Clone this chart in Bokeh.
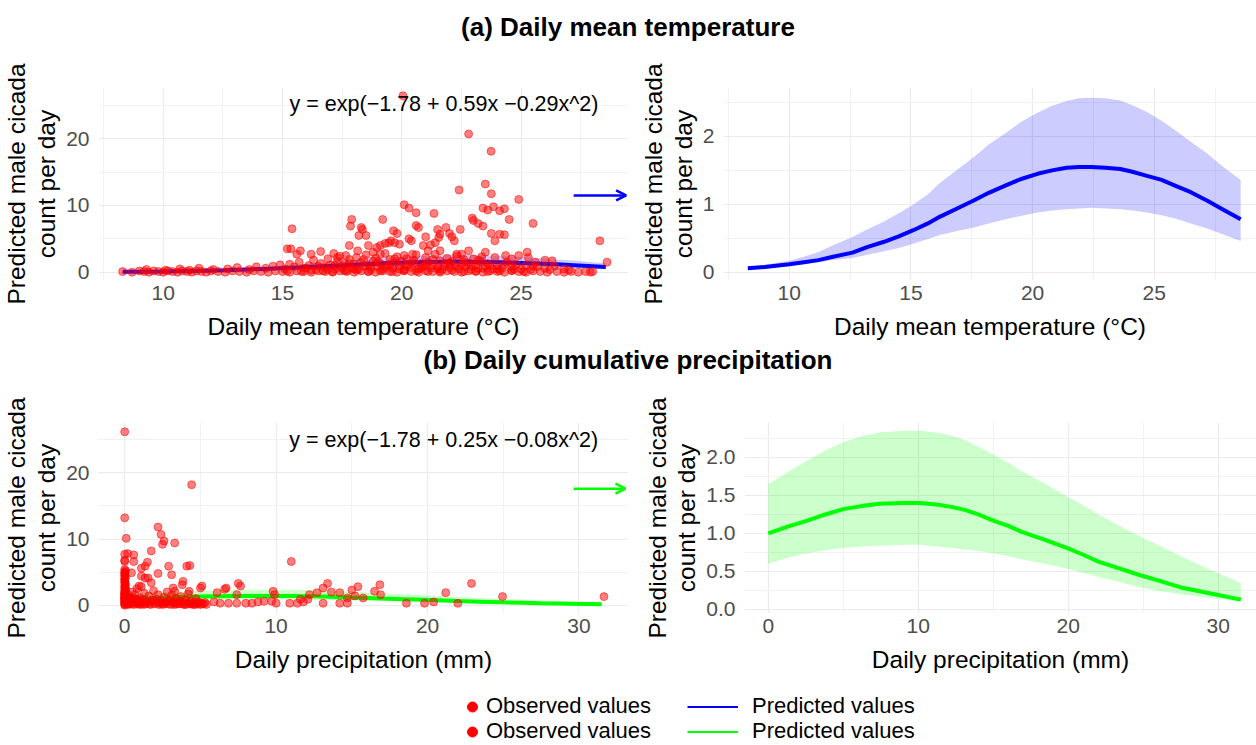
from bokeh.plotting import figure
from bokeh.models import FixedTicker, Label, Arrow, OpenHead, Legend, LegendItem, Div, PrintfTickFormatter
from bokeh.layouts import column, row
from bokeh.embed import file_html
from bokeh.resources import INLINE

FONT = "Liberation Sans"

# ---------------- data ----------------
# predicted curve: temperature
temp_x = [8.3, 9.0, 10.0, 10.6, 11.2, 11.8, 12.6, 13.2, 13.9, 14.5, 15.1, 15.7, 16.2, 16.9, 17.6, 18.2,
          18.9, 19.5, 20.2, 20.8, 21.4, 21.9, 22.4, 23.0, 23.6, 24.1, 24.7, 25.3, 25.9, 26.5, 27.2, 27.8, 28.55]
temp_fit = [0.06, 0.08, 0.12, 0.15, 0.18, 0.23, 0.29, 0.37, 0.45, 0.53, 0.62, 0.72, 0.82, 0.94, 1.06, 1.17,
            1.28, 1.37, 1.45, 1.50, 1.54, 1.55, 1.55, 1.54, 1.52, 1.48, 1.42, 1.36, 1.27, 1.18, 1.05, 0.93, 0.78]
temp_upper = [0.08, 0.11, 0.17, 0.23, 0.30, 0.40, 0.52, 0.63, 0.75, 0.87, 1.00, 1.15, 1.32, 1.51, 1.70, 1.88,
              2.05, 2.21, 2.35, 2.45, 2.52, 2.56, 2.57, 2.56, 2.53, 2.46, 2.36, 2.23, 2.08, 1.92, 1.74, 1.56, 1.36]
temp_lower = [0.04, 0.06, 0.09, 0.12, 0.15, 0.18, 0.21, 0.26, 0.31, 0.36, 0.42, 0.49, 0.55, 0.61, 0.66, 0.72,
              0.78, 0.83, 0.88, 0.91, 0.93, 0.94, 0.95, 0.94, 0.93, 0.91, 0.88, 0.84, 0.79, 0.72, 0.64, 0.56, 0.46]

# predicted curve: precipitation
prec_x = [0.0, 1.3, 2.6, 3.8, 5.0, 6.2, 7.4, 9.0, 10.1, 11.2, 12.2, 13.1, 14.0, 15.0, 16.0, 16.9, 18.4,
          19.9, 21.0, 22.0, 23.4, 24.8, 26.2, 27.5, 29.5, 31.5]
prec_fit = [1.00, 1.09, 1.17, 1.25, 1.32, 1.36, 1.39, 1.40, 1.40, 1.38, 1.35, 1.31, 1.25, 1.17, 1.10, 1.02, 0.92,
            0.81, 0.72, 0.63, 0.54, 0.45, 0.37, 0.29, 0.21, 0.13]
prec_upper = [1.65, 1.81, 1.96, 2.09, 2.20, 2.28, 2.33, 2.35, 2.35, 2.33, 2.29, 2.23, 2.14, 2.04, 1.93, 1.82, 1.66,
              1.49, 1.37, 1.25, 1.10, 0.96, 0.83, 0.70, 0.52, 0.35]
prec_lower = [0.60, 0.68, 0.74, 0.78, 0.81, 0.83, 0.84, 0.85, 0.85, 0.83, 0.81, 0.79, 0.77, 0.74, 0.70, 0.66, 0.60,
              0.54, 0.48, 0.43, 0.36, 0.29, 0.24, 0.20, 0.15, 0.10]

# observed values: (daily mean temperature, count)
obs_temp_pairs = [
    (20.05, 26.4), (22.8, 20.7), (23.74, 18.1), (23.5, 13.2), (22.4, 12.3), (23.75, 11.75),
    (24.9, 10.9), (20.1, 10.1), (20.3, 9.6), (23.4, 9.6), (23.6, 9.3), (23.84, 9.8),
    (24.1, 9.2), (24.3, 9.5), (20.6, 8.9), (21.35, 8.8), (19.2, 7.9), (17.9, 7.9),
    (17.85, 6.9), (18.3, 6.7), (18.35, 6.4), (22.95, 8.1), (23.0, 7.75), (23.2, 7.3),
    (23.4, 6.9), (24.5, 7.9), (20.6, 7.0), (20.7, 6.7), (15.4, 6.5), (25.5, 7.3),
    (19.65, 6.2), (19.8, 5.8), (21.0, 5.3), (21.5, 6.4), (21.6, 5.7), (21.85, 6.7),
    (22.45, 6.4), (23.75, 5.8), (24.1, 5.7), (24.3, 5.6), (23.9, 4.7), (22.0, 5.8),
    (22.1, 5.3), (22.2, 4.7), (20.3, 5.0), (20.4, 4.7), (20.9, 4.0), (21.2, 4.1),
    (21.4, 4.4), (21.55, 5.2), (18.2, 5.5), (18.5, 5.5), (18.6, 4.0), (18.95, 3.7),
    (19.1, 4.0), (19.3, 4.3), (19.45, 4.4), (19.55, 4.7), (19.7, 4.4), (19.9, 4.2),
    (17.8, 4.0), (15.2, 3.5), (15.35, 3.5), (15.6, 2.7), (15.75, 3.2), (16.2, 2.7),
    (16.6, 3.1), (17.15, 2.8), (24.9, 2.5), (25.3, 2.2), (25.25, 3.0), (28.3, 4.7),
    (28.6, 1.5), (26.3, 1.7), (26.0, 1.8), (25.6, 1.5), (24.6, 2.0), (24.35, 2.5),
    (23.5, 3.0), (23.35, 2.3), (22.8, 3.2), (22.5, 2.7), (22.3, 2.7), (21.6, 3.2),
    (21.1, 3.2), (20.45, 2.7), (20.1, 2.5), (19.1, 2.7), (18.8, 3.0), (18.15, 3.2),
    (17.65, 2.5), (17.3, 2.2),
    (8.3, 0.1), (8.7, 0.0), (9.0, 0.2), (9.2, 0.1), (9.4, 0.0), (9.6, 0.2), (9.8, 0.1),
    (10.0, 0.0), (10.2, 0.2), (10.4, 0.1), (10.6, 0.0), (10.8, 0.2), (11.0, 0.1),
    (11.2, 0.0), (11.4, 0.2), (11.6, 0.1), (11.8, 0.0), (12.0, 0.2), (12.3, 0.1),
    (12.6, 0.0), (12.9, 0.2), (13.2, 0.1), (13.5, 0.0), (13.8, 0.2), (14.1, 0.1),
    (14.4, 0.0), (14.7, 0.2), (15.0, 0.1), (15.3, 0.0), (15.6, 0.2), (15.9, 0.1),
    (16.2, 0.0), (16.5, 0.2), (16.8, 0.1), (17.1, 0.0), (17.4, 0.2), (17.7, 0.1),
    (18.0, 0.0), (18.3, 0.2), (18.6, 0.1), (18.9, 0.0), (19.2, 0.2), (19.5, 0.1),
    (19.8, 0.0), (20.1, 0.2), (20.4, 0.1), (20.7, 0.0), (21.0, 0.2), (21.3, 0.1),
    (21.6, 0.0), (21.9, 0.2), (22.2, 0.1), (22.5, 0.0), (22.8, 0.2), (23.1, 0.1),
    (23.4, 0.0), (23.7, 0.2), (24.0, 0.1), (24.3, 0.0), (24.6, 0.2), (24.9, 0.1),
    (25.2, 0.0), (25.5, 0.2), (25.8, 0.1), (26.1, 0.0), (26.5, 0.1), (26.8, 0.0),
    (27.1, 0.1), (27.4, 0.0), (27.7, 0.1), (27.9, 0.0),
    (9.3, 0.4), (10.1, 0.3), (10.7, 0.5), (11.1, 0.3), (11.5, 0.6), (12.1, 0.4),
    (12.7, 0.5), (13.1, 0.7), (13.6, 0.4), (13.9, 0.8), (14.3, 0.6), (14.6, 0.9), (14.9, 1.1),
    (15.1, 0.5), (15.3, 1.2), (15.5, 0.8), (15.7, 1.5), (15.9, 0.6), (16.1, 1.0), (16.3, 1.8),
    (16.4, 0.4), (16.6, 1.3), (16.8, 0.7), (16.9, 2.0), (17.0, 1.1), (17.2, 0.5), (17.3, 1.6),
    (17.4, 2.4), (17.5, 0.9), (17.6, 1.3), (17.7, 0.3), (17.8, 1.9), (17.9, 0.7), (18.0, 1.2),
    (18.1, 2.2), (18.2, 0.5), (18.3, 1.5), (18.4, 0.9), (18.5, 2.6), (18.6, 1.1), (18.7, 0.4),
    (18.8, 1.7), (18.9, 2.1), (19.0, 0.8), (19.1, 1.3), (19.2, 0.5), (19.3, 2.8), (19.4, 1.0),
    (19.5, 1.9), (19.6, 0.6), (19.7, 1.4), (19.8, 2.3), (19.9, 0.9), (20.0, 1.6), (20.1, 0.4),
    (20.2, 2.0), (20.3, 1.2), (20.4, 0.7), (20.5, 1.8), (20.6, 2.6), (20.7, 0.5), (20.8, 1.3),
    (20.9, 0.9), (21.0, 2.2), (21.1, 1.5), (21.2, 0.6), (21.3, 1.1), (21.4, 2.7), (21.5, 0.8),
    (21.6, 1.7), (21.7, 0.4), (21.8, 1.3), (21.9, 2.1), (22.0, 0.7), (22.1, 1.6), (22.2, 1.0),
    (22.3, 2.4), (22.4, 0.5), (22.5, 1.2), (22.6, 1.9), (22.7, 0.8), (22.8, 1.4), (22.9, 0.4),
    (23.0, 2.0), (23.1, 1.1), (23.2, 0.6), (23.3, 1.7), (23.5, 0.9), (23.6, 1.3), (23.8, 0.5),
    (23.9, 2.2), (24.0, 1.0), (24.2, 0.6), (24.4, 1.5), (24.6, 0.8), (24.8, 1.2), (25.0, 0.5),
    (25.2, 1.0), (25.4, 0.4), (25.7, 0.8), (26.0, 0.6), (26.4, 0.9), (26.8, 0.5),
    (15.2, 0.2), (15.8, 0.1), (16.2, 0.3), (16.7, 0.2), (17.1, 0.1), (17.6, 0.2), (18.1, 0.3),
    (18.6, 0.1), (19.1, 0.2), (19.6, 0.1), (20.1, 0.3), (20.6, 0.2), (21.1, 0.1), (21.6, 0.2),
    (22.1, 0.3), (22.6, 0.1), (23.1, 0.2), (23.6, 0.1), (24.1, 0.2), (24.6, 0.3), (25.1, 0.1),
    (16.0, 0.6), (16.5, 0.9), (16.9, 0.4), (17.2, 1.0), (17.5, 0.6), (17.8, 1.3), (18.0, 0.5),
    (18.4, 1.9), (18.7, 0.8), (19.0, 1.6), (19.3, 0.7), (19.5, 1.2), (19.7, 2.0), (19.9, 0.5),
    (20.2, 1.0), (20.5, 1.4), (20.8, 0.6), (21.0, 1.0), (21.3, 1.9), (21.5, 0.5), (21.8, 0.9),
    (22.0, 1.4), (22.3, 0.8), (22.6, 1.5), (22.9, 1.0), (23.2, 1.8), (23.4, 0.6), (23.7, 1.0),
    (24.0, 0.5), (24.3, 1.2), (24.7, 0.5), (25.5, 0.9), (26.2, 0.4), (27.0, 0.3), (28.0, 0.1),
]

# observed values: (daily precipitation, count)
obs_prec_pairs = [
    (0.0, 26.2), (4.42, 18.2), (0.0, 13.2), (0.1, 10.1), (2.2, 11.8), (2.4, 10.7), (2.6, 9.7),
    (2.5, 9.2), (3.3, 9.4), (11.0, 6.6), (0.2, 7.8), (0.0, 7.7), (0.6, 7.6), (0.6, 6.6),
    (1.75, 8.2), (1.5, 6.5), (1.35, 5.9), (1.1, 5.6), (2.9, 5.9), (4.1, 5.9), (4.3, 6.0),
    (2.2, 4.8), (3.1, 4.6), (0.0, 5.4), (0.0, 4.9), (0.0, 4.4), (0.0, 3.9), (0.0, 3.4),
    (0.05, 2.9), (0.05, 2.4), (0.0, 1.9), (0.0, 1.1), (0.45, 4.9), (1.1, 4.4), (1.55, 4.1),
    (1.75, 3.4), (1.35, 4.1), (0.95, 2.9), (3.85, 3.6), (3.8, 3.1), (5.1, 2.9), (5.0, 2.6),
    (3.2, 2.6), (3.3, 2.1), (4.25, 2.1), (6.1, 1.9), (6.7, 2.6), (6.6, 2.4), (7.5, 3.3),
    (7.65, 2.9), (7.4, 1.6), (9.8, 2.1), (9.9, 1.6), (11.6, 0.9), (12.2, 1.6), (12.7, 1.9),
    (13.1, 2.6), (13.4, 3.3), (13.65, 2.0), (14.2, 1.9), (14.7, 1.1), (15.0, 2.3), (15.4, 2.8),
    (15.2, 1.4), (15.75, 1.1), (16.5, 2.1), (16.85, 3.1), (16.9, 1.6), (21.2, 1.9), (22.9, 3.3),
    (24.95, 1.3), (31.65, 1.3), (18.6, 0.3), (19.8, 0.3), (20.4, 0.5), (22.0, 0.3), (14.2, 0.3),
    (14.7, 0.3), (13.1, 0.3), (12.1, 0.9), (11.8, 0.5), (11.4, 0.3), (10.9, 0.3), (10.0, 0.3),
    (9.7, 0.6), (9.2, 0.6), (8.8, 0.5), (8.4, 0.3), (8.0, 0.3), (7.4, 0.3), (6.85, 0.3),
    (6.3, 0.3), (5.9, 0.5),
    (0.0, 0.0), (0.0, 0.3), (0.0, 0.6), (0.0, 0.9), (0.0, 1.2), (0.0, 1.5), (0.0, 1.8),
    (0.0, 2.1), (0.0, 2.4), (0.0, 2.7), (0.0, 3.0), (0.05, 3.3), (0.0, 3.6), (0.0, 4.0),
    (0.05, 4.2), (0.0, 4.6), (0.0, 5.0), (0.05, 5.2), (0.0, 6.6), (0.0, 6.8), (0.1, 0.2),
    (0.1, 0.8), (0.1, 1.4), (0.2, 0.5), (0.2, 1.0), (0.2, 1.6), (0.3, 0.3), (0.3, 0.9),
    (0.4, 0.2), (0.4, 1.2), (0.5, 0.6), (0.5, 2.0), (0.6, 0.1), (0.7, 0.4), (0.7, 1.6),
    (0.8, 0.2), (0.8, 2.5), (0.9, 0.7), (1.0, 0.1), (1.0, 1.1), (1.1, 2.8), (1.2, 0.3),
    (1.2, 0.9), (1.3, 1.8), (1.4, 0.2), (1.5, 0.6), (1.6, 1.4), (1.7, 0.1), (1.8, 0.5),
    (1.9, 2.2), (2.0, 0.2), (2.1, 0.9), (2.2, 1.6), (2.3, 0.3), (2.4, 0.7), (2.5, 0.1),
    (2.6, 1.2), (2.7, 0.4), (2.8, 2.0), (2.9, 0.2), (3.0, 0.8), (3.1, 1.5), (3.2, 0.3),
    (3.3, 0.1), (3.4, 1.0), (3.5, 0.4), (3.6, 0.2), (3.7, 1.3), (3.8, 0.5), (3.9, 0.1),
    (4.0, 0.8), (4.1, 0.3), (4.2, 1.7), (4.3, 0.2), (4.4, 0.6), (4.5, 0.1), (4.6, 0.4),
    (4.7, 1.0), (4.8, 0.2), (4.9, 0.3), (5.0, 0.1), (5.2, 0.2), (5.3, 0.4), (5.4, 0.1),
    (0.0, 0.15), (0.0, 0.45), (0.0, 0.75), (0.0, 1.05), (0.0, 1.35), (0.0, 1.65), (0.05, 2.25),
    (0.1, 0.5), (0.15, 1.1), (0.25, 0.1), (0.35, 0.6), (0.45, 0.3), (0.55, 1.0), (0.65, 0.5),
    (0.75, 0.9), (0.85, 0.3), (0.95, 0.5), (1.05, 0.2), (1.15, 0.6), (1.25, 0.1), (1.45, 0.4),
    (1.65, 0.2), (1.85, 0.8), (2.05, 0.4), (2.25, 0.1), (2.45, 0.3), (2.65, 0.2), (2.85, 0.6),
    (3.05, 0.1), (3.25, 0.5), (3.45, 0.2), (3.65, 0.6), (3.85, 0.2), (4.05, 0.1), (4.25, 0.4),
    (4.45, 0.2), (4.65, 0.1), (4.85, 0.5), (5.1, 0.3),
]

temp_xticks = [10, 15, 20, 25]
temp_xminor = [7.5, 12.5, 17.5, 22.5, 27.5]
prec_xticks = [0, 10, 20, 30]
prec_xminor = [5, 15, 25]
count_yticks = [0, 10, 20]
count_yminor = [5, 15, 25]
temp_pred_yticks = [0, 1, 2]
temp_pred_yminor = [0.5, 1.5, 2.5]
prec_pred_yticks = [0.0, 0.5, 1.0, 1.5, 2.0]
prec_pred_yminor = [0.25, 0.75, 1.25, 1.75, 2.25]

YLABEL = "Predicted male cicada\ncount per day"
TEMP_LABEL = "Daily mean temperature (\u00b0C)"
PREC_LABEL = "Daily precipitation (mm)"
EQ_TEMP = "y = exp(\u22121.78 + 0.59x \u22120.29x^2)"
EQ_PREC = "y = exp(\u22121.78 + 0.25x \u22120.08x^2)"

RED = "#FF0000"
BLUE = "#0000FF"
GREEN = "#00FF00"


def panel(height, xr, yr, xt, xm, yt, ym, xlabel, bl, bt, bb, yfmt=None):
    p = figure(width=628, height=height, x_range=xr, y_range=yr,
               output_backend="svg", toolbar_location=None,
               min_border_left=bl, min_border_right=0, min_border_top=bt, min_border_bottom=bb)
    p.outline_line_color = None
    p.xaxis.ticker = FixedTicker(ticks=xt, minor_ticks=xm)
    p.yaxis.ticker = FixedTicker(ticks=yt, minor_ticks=ym)
    if yfmt:
        p.yaxis.formatter = PrintfTickFormatter(format=yfmt)
    for g in (p.xgrid, p.ygrid):
        g.grid_line_color = "#EBEBEB"
        g.grid_line_width = 1.2
        g.minor_grid_line_color = "#F2F2F2"
        g.minor_grid_line_width = 1
    for ax in (p.xaxis, p.yaxis):
        ax.axis_line_color = None
        ax.major_tick_line_color = None
        ax.minor_tick_line_color = None
        ax.major_tick_out = 0
        ax.major_tick_in = 0
        ax.minor_tick_out = 0
        ax.minor_tick_in = 0
        ax.major_label_text_font = FONT
        ax.major_label_text_font_size = "21px"
        ax.major_label_text_color = "#4D4D4D"
        ax.axis_label_text_font = FONT
        ax.axis_label_text_font_size = "24.5px"
        ax.axis_label_text_font_style = "normal"
        ax.axis_label_text_color = "black"
    p.xaxis.axis_label = xlabel
    p.xaxis.major_label_standoff = 5
    p.xaxis.axis_label_standoff = 10
    p.yaxis.axis_label = YLABEL
    p.yaxis.major_label_standoff = 9
    p.yaxis.axis_label_standoff = 3
    p.yaxis.axis_label_text_line_height = 1.1
    return p


# ---- panel 1: temperature, observed ----
p1 = panel(295, (7.29, 29.5), (-1.24, 27.65), temp_xticks, temp_xminor, count_yticks, count_yminor,
           TEMP_LABEL, 97, 37, 65)
p1.varea(x=temp_x, y1=temp_lower, y2=temp_upper, fill_color=BLUE, fill_alpha=0.2)
p1.line(temp_x, temp_fit, line_color=BLUE, line_width=4)
p1.scatter([a for a, b in obs_temp_pairs], [b for a, b in obs_temp_pairs], size=8,
           fill_color=RED, line_color=RED, fill_alpha=0.5, line_alpha=0.5)
p1.add_layout(Label(x=21.77, y=25.25, text=EQ_TEMP, text_align="center", text_baseline="middle",
                    text_font=FONT, text_font_size="21.5px", text_color="black"))
p1.add_layout(Arrow(end=OpenHead(size=10, line_color=BLUE, line_width=2.5),
                    x_start=27.2, y_start=11.5, x_end=29.4, y_end=11.5,
                    line_color=BLUE, line_width=2.5))

# ---- panel 2: temperature, predicted ----
p2 = panel(295, (7.3, 29.2), (-0.12, 2.72), temp_xticks, temp_xminor, temp_pred_yticks, temp_pred_yminor,
           TEMP_LABEL, 95, 37, 65)
p2.varea(x=temp_x, y1=temp_lower, y2=temp_upper, fill_color=BLUE, fill_alpha=0.2)
p2.line(temp_x, temp_fit, line_color=BLUE, line_width=4)

# ---- panel 3: precipitation, observed ----
p3 = panel(300, (-1.73, 33.27), (-1.25, 27.6), prec_xticks, prec_xminor, count_yticks, count_yminor,
           PREC_LABEL, 97, 42, 67)
p3.varea(x=prec_x, y1=prec_lower, y2=prec_upper, fill_color=GREEN, fill_alpha=0.2)
p3.line(prec_x, prec_fit, line_color=GREEN, line_width=4)
p3.scatter([a for a, b in obs_prec_pairs], [b for a, b in obs_prec_pairs], size=8,
           fill_color=RED, line_color=RED, fill_alpha=0.5, line_alpha=0.5)
p3.add_layout(Label(x=21.07, y=25.0, text=EQ_PREC, text_align="center", text_baseline="middle",
                    text_font=FONT, text_font_size="21.5px", text_color="black"))
p3.add_layout(Arrow(end=OpenHead(size=10, line_color=GREEN, line_width=2.5),
                    x_start=29.64, y_start=17.6, x_end=33.07, y_end=17.6,
                    line_color=GREEN, line_width=2.5))

# ---- panel 4: precipitation, predicted ----
p4 = panel(300, (-1.585, 32.55), (-0.053, 2.46), prec_xticks, prec_xminor, prec_pred_yticks, prec_pred_yminor,
           PREC_LABEL, 116, 42, 67, yfmt="%.1f")
p4.varea(x=prec_x, y1=prec_lower, y2=prec_upper, fill_color=GREEN, fill_alpha=0.2)
p4.line(prec_x, prec_fit, line_color=GREEN, line_width=4)

# ---- legend strip (proxy glyphs sit outside the visible range) ----
pl = figure(width=1256, height=65, x_range=(0, 1), y_range=(0, 1), output_backend="svg",
            toolbar_location=None, min_border=0)
pl.axis.visible = False
pl.grid.visible = False
pl.outline_line_color = None
r_obs = pl.scatter([5], [5], size=11, fill_color=RED, line_color=RED)
r_blue = pl.line([5, 6], [5, 6], line_color=BLUE, line_width=2)
r_green = pl.line([5, 6], [5, 6], line_color=GREEN, line_width=2)
common = dict(orientation="vertical", border_line_color=None, background_fill_alpha=0,
              padding=0, margin=0, spacing=0, glyph_height=25, label_height=25,
              label_text_font=FONT, label_text_font_size="22px", label_text_color="black")
legend_rows = [
    ("Observed values", r_obs, 458, 26, 28, 0),
    ("Observed values", r_obs, 458, 1, 28, 0),
    ("Predicted values", r_blue, 687, 26, 51, 14),
    ("Predicted values", r_green, 687, 1, 51, 14),
]
for lab, rend, lx, ly, gw, ls in legend_rows:
    pl.add_layout(Legend(items=[LegendItem(label=lab, renderers=[rend])], location=(lx, ly),
                         glyph_width=gw, label_standoff=ls, **common), "center")

title_style = "width:1256px;text-align:center;font-family:'Liberation Sans';font-weight:bold;font-size:26px;color:black;"
div_a = Div(text=f"<div style=\"{title_style}line-height:54px;\">(a) Daily mean temperature</div>",
            width=1256, height=50, margin=0)
div_b = Div(text=f"<div style=\"{title_style}line-height:30px;\">(b) Daily cumulative precipitation</div>",
            width=1256, height=35, margin=0)

layout = column(div_a, row(p1, p2, spacing=0), div_b, row(p3, p4, spacing=0), pl, spacing=0)

open("out.html", "w").write(file_html(layout, INLINE))
